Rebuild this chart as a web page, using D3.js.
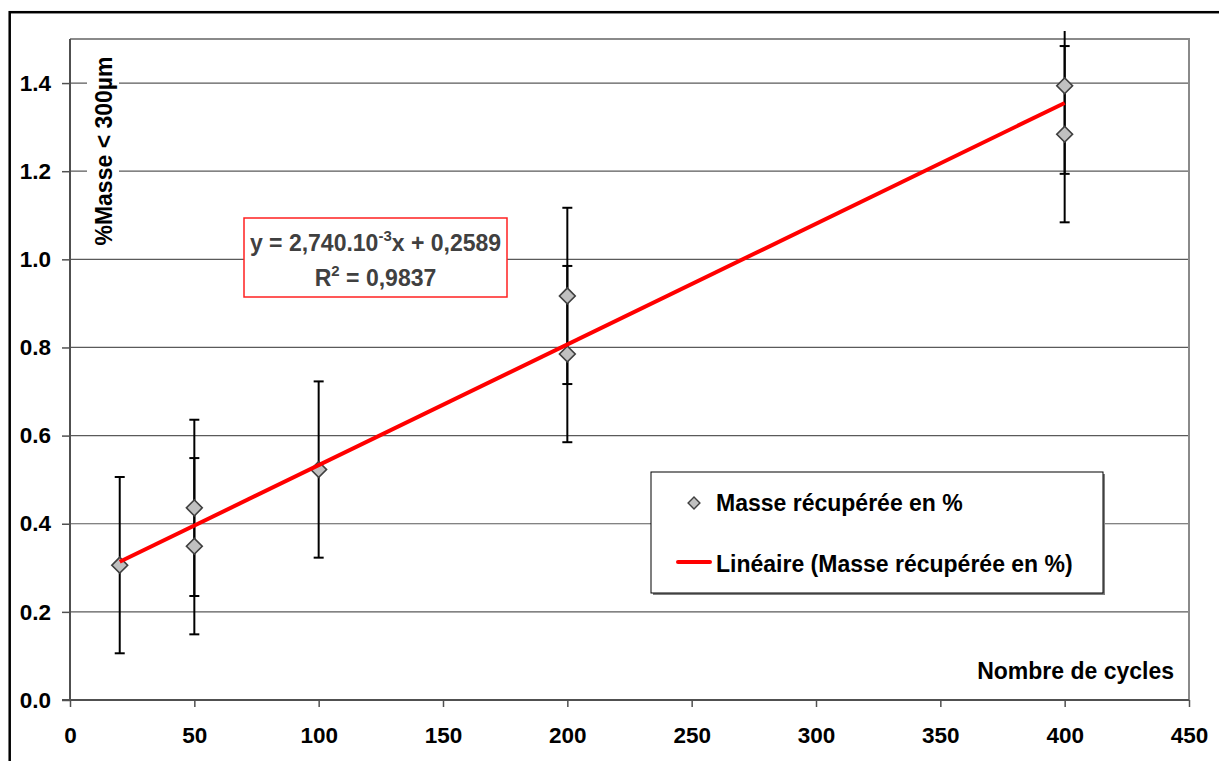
<!DOCTYPE html>
<html>
<head>
<meta charset="utf-8">
<script src="https://cdn.jsdelivr.net/npm/d3@7"></script>
<style>
  body { margin: 0; background: #fff; }
  svg { display: block; font-family: "Liberation Sans", Arial, sans-serif; font-weight: bold; }
</style>
</head>
<body>
<svg id="chart" width="1219" height="761"></svg>
<script>
// data
const cycles = [20, 50, 50, 100, 200, 200, 400, 400];
const masse = [0.306, 0.436, 0.349, 0.523, 0.917, 0.785, 1.394, 1.284];
const erreur = [0.2, 0.2, 0.2, 0.2, 0.2, 0.2, 0.2, 0.2];
const pente = 2.740e-3;
const origine = 0.2589;
const xTicks = [0, 50, 100, 150, 200, 250, 300, 350, 400, 450];
const yTicks = [0, 0.2, 0.4, 0.6, 0.8, 1.0, 1.2, 1.4];
const serieNom = "Masse récupérée en %";
const trendNom = "Linéaire (Masse récupérée en %)";

const points = cycles.map((c, i) => ({x: c, y: masse[i], e: erreur[i]}));

const margin = {top: 39, right: 30, bottom: 61, left: 70};
const W = 1219, H = 761;
const fs = 23;

const svg = d3.select('#chart');

// outer frame (cut by the page edge)
svg.append('rect')
  .attr('x', 9.7).attr('y', 12.2)
  .attr('width', W + 50).attr('height', H + 50)
  .attr('fill', 'none').attr('stroke', '#000').attr('stroke-width', 2.5);

const xScale = d3.scaleLinear().domain([0, 450]).range([margin.left, W - margin.right]);
const yScale = d3.scaleLinear().domain([0, 1.5]).range([H - margin.bottom, margin.top]);

// gridlines
svg.append('g')
  .selectAll('line')
  .data(yTicks.filter(d => d > 0))
  .join('line')
    .attr('x1', xScale(0)).attr('x2', xScale(450))
    .attr('y1', d => yScale(d)).attr('y2', d => yScale(d))
    .attr('stroke', '#5a5a5a').attr('stroke-width', 1.2);

// plot border top / right
svg.append('path')
  .attr('d', `M${xScale(0)},${yScale(1.5)}H${xScale(450)}V${yScale(0)}`)
  .attr('fill', 'none').attr('stroke', '#8a8a8a').attr('stroke-width', 2);

// y title with white background
const yTitle = svg.append('g')
  .attr('transform', `translate(112, 151) rotate(-90)`);
const yTitleBg = yTitle.append('rect').attr('fill', '#fff');
const yTitleTxt = yTitle.append('text')
  .attr('text-anchor', 'middle')
  .attr('font-size', fs)
  .attr('fill', '#000')
  .text('%Masse < 300µm');
const bb = yTitleTxt.node().getBBox();
yTitleBg.attr('x', bb.x - 6).attr('y', bb.y - 4).attr('width', bb.width + 12).attr('height', bb.height + 6);

// axes
const yAxis = svg.append('g')
  .attr('transform', `translate(${xScale(0)},0)`)
  .call(d3.axisLeft(yScale).tickValues(yTicks).tickFormat(d3.format('.1f')).tickSize(8).tickPadding(11));
const xAxis = svg.append('g')
  .attr('transform', `translate(0,${yScale(0)})`)
  .call(d3.axisBottom(xScale).tickValues(xTicks).tickSize(7).tickPadding(20));

[yAxis, xAxis].forEach(ax => {
  ax.select('.domain').attr('stroke', '#505050').attr('stroke-width', 2);
  ax.selectAll('.tick line').attr('stroke', '#505050').attr('stroke-width', 1.5);
  ax.selectAll('.tick text')
    .attr('fill', '#000')
    .style('font-family', '"Liberation Sans", Arial, sans-serif')
    .style('font-weight', 'bold')
    .style('font-size', '22.5px');
});
yAxis.select('.domain').attr('d', `M0,${yScale(1.5)}V${yScale(0)}`);
xAxis.select('.domain').attr('d', `M${xScale(0) - 8},0H${xScale(450)}`);

// x title
svg.append('text')
  .attr('x', xScale(444))
  .attr('y', yScale(0.047))
  .attr('text-anchor', 'end')
  .attr('font-size', fs)
  .text('Nombre de cycles');

// clip for error bars (Excel lets them run a bit past the plot top)
svg.append('clipPath').attr('id', 'clipErr')
  .append('rect')
  .attr('x', 0).attr('y', yScale(1.5) - 8)
  .attr('width', W).attr('height', H);

const errG = svg.append('g').attr('clip-path', 'url(#clipErr)');
errG.selectAll('line.bar')
  .data(points)
  .join('line')
    .attr('class', 'bar')
    .attr('x1', d => xScale(d.x)).attr('x2', d => xScale(d.x))
    .attr('y1', d => yScale(d.y + d.e)).attr('y2', d => yScale(d.y - d.e))
    .attr('stroke', '#000').attr('stroke-width', 2);
errG.selectAll('line.capHi')
  .data(points)
  .join('line')
    .attr('class', 'capHi')
    .attr('x1', d => xScale(d.x) - 5).attr('x2', d => xScale(d.x) + 5)
    .attr('y1', d => yScale(d.y + d.e)).attr('y2', d => yScale(d.y + d.e))
    .attr('stroke', '#000').attr('stroke-width', 2);
errG.selectAll('line.capLo')
  .data(points)
  .join('line')
    .attr('class', 'capLo')
    .attr('x1', d => xScale(d.x) - 5).attr('x2', d => xScale(d.x) + 5)
    .attr('y1', d => yScale(d.y - d.e)).attr('y2', d => yScale(d.y - d.e))
    .attr('stroke', '#000').attr('stroke-width', 2);

// markers
const diamond = d3.symbol().type(d3.symbolSquare).size(125);
svg.append('g')
  .selectAll('path')
  .data(points)
  .join('path')
    .attr('d', diamond)
    .attr('transform', d => `translate(${xScale(d.x)},${yScale(d.y)}) rotate(45)`)
    .attr('fill', '#c0c0c0').attr('stroke', '#404040').attr('stroke-width', 1.6);

// linear trend
const xMin = d3.min(cycles), xMax = d3.max(cycles);
svg.append('line')
  .attr('x1', xScale(xMin)).attr('y1', yScale(pente * xMin + origine))
  .attr('x2', xScale(xMax)).attr('y2', yScale(pente * xMax + origine))
  .attr('stroke', '#ff0000').attr('stroke-width', 4);

// equation box
const eq = svg.append('g').attr('transform', 'translate(244,218)');
eq.append('rect')
  .attr('width', 263).attr('height', 79)
  .attr('fill', '#fff').attr('stroke', '#ff2020').attr('stroke-width', 1.5);
const eq1 = eq.append('text')
  .attr('x', 131.5).attr('y', 33)
  .attr('text-anchor', 'middle')
  .attr('font-size', fs)
  .attr('fill', '#404040');
eq1.append('tspan').text('y = 2,740.10');
eq1.append('tspan').attr('dy', -10).attr('font-size', 15).text('-3');
eq1.append('tspan').attr('dy', 10).text('x + 0,2589');
const eq2 = eq.append('text')
  .attr('x', 131.5).attr('y', 68)
  .attr('text-anchor', 'middle')
  .attr('font-size', fs)
  .attr('fill', '#404040');
eq2.append('tspan').text('R');
eq2.append('tspan').attr('dy', -10).attr('font-size', 15).text('2');
eq2.append('tspan').attr('dy', 10).text(' = 0,9837');

// legend
const leg = svg.append('g').attr('transform', 'translate(651,472)');
leg.append('rect')
  .attr('x', 2).attr('y', 2).attr('width', 452).attr('height', 121)
  .attr('fill', '#808080');
leg.append('rect')
  .attr('width', 452).attr('height', 121)
  .attr('fill', '#fff').attr('stroke', '#000').attr('stroke-width', 1);
leg.append('path')
  .attr('d', d3.symbol().type(d3.symbolSquare).size(70))
  .attr('transform', 'translate(43,31) rotate(45)')
  .attr('fill', '#c0c0c0').attr('stroke', '#404040').attr('stroke-width', 1.4);
leg.append('text').attr('x', 65).attr('y', 39).attr('font-size', fs).text(serieNom);
leg.append('line')
  .attr('x1', 27).attr('x2', 59).attr('y1', 90).attr('y2', 90)
  .attr('stroke', '#ff0000').attr('stroke-width', 4).attr('stroke-linecap', 'round');
leg.append('text').attr('x', 65).attr('y', 100).attr('font-size', fs).text(trendNom);
</script>
</body>
</html>
